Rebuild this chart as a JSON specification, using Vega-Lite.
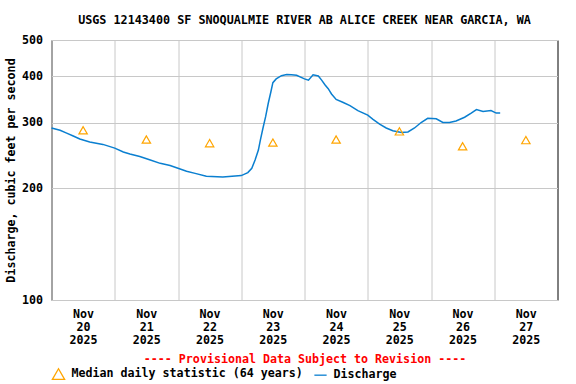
{
  "$schema": "https://vega.github.io/schema/vega-lite/v6.json",
  "width": 506,
  "height": 260,
  "autosize": {"type": "none"},
  "padding": {"left": 51.5, "top": 40, "right": 18.5, "bottom": 84},
  "background": "white",
  "config": {
    "font": "DejaVu Sans Mono",
    "view": {"stroke": "black", "strokeWidth": 1},
    "axis": {
      "labelFont": "DejaVu Sans Mono",
      "labelFontSize": 11.65,
      "labelFontWeight": "bold",
      "labelColor": "black",
      "titleFont": "DejaVu Sans Mono",
      "titleFontSize": 11.65,
      "titleFontWeight": "bold",
      "gridColor": "#c8c8c8",
      "gridWidth": 1,
      "gridOpacity": 1,
      "domain": false,
      "ticks": false
    },
    "legend": {
      "labelFont": "DejaVu Sans Mono",
      "labelFontSize": 11.65,
      "labelFontWeight": "bold",
      "labelColor": "black",
      "labelLimit": 0
    }
  },
  "title": {
    "text": "USGS 12143400 SF SNOQUALMIE RIVER AB ALICE CREEK NEAR GARCIA, WA",
    "frame": "group",
    "anchor": "middle",
    "font": "DejaVu Sans Mono",
    "fontSize": 11.75,
    "fontWeight": "bold",
    "color": "black",
    "offset": 7.5
  },
  "datasets": {
    "discharge": [
      {"t": "2025-11-20T00:00", "q": 290},
      {"t": "2025-11-20T03:15", "q": 286},
      {"t": "2025-11-20T05:45", "q": 281},
      {"t": "2025-11-20T08:15", "q": 276},
      {"t": "2025-11-20T10:45", "q": 271},
      {"t": "2025-11-20T14:30", "q": 266},
      {"t": "2025-11-20T19:30", "q": 262},
      {"t": "2025-11-21T00:00", "q": 256},
      {"t": "2025-11-21T03:15", "q": 250},
      {"t": "2025-11-21T05:45", "q": 247},
      {"t": "2025-11-21T09:30", "q": 243},
      {"t": "2025-11-21T13:30", "q": 238},
      {"t": "2025-11-21T17:15", "q": 233},
      {"t": "2025-11-21T21:00", "q": 230},
      {"t": "2025-11-22T00:00", "q": 226},
      {"t": "2025-11-22T03:15", "q": 222},
      {"t": "2025-11-22T06:30", "q": 219},
      {"t": "2025-11-22T10:45", "q": 215},
      {"t": "2025-11-22T17:00", "q": 214},
      {"t": "2025-11-23T00:00", "q": 216},
      {"t": "2025-11-23T02:30", "q": 220},
      {"t": "2025-11-23T04:00", "q": 226},
      {"t": "2025-11-23T05:15", "q": 238},
      {"t": "2025-11-23T06:30", "q": 253},
      {"t": "2025-11-23T07:15", "q": 269},
      {"t": "2025-11-23T08:15", "q": 290},
      {"t": "2025-11-23T09:15", "q": 311},
      {"t": "2025-11-23T10:15", "q": 338},
      {"t": "2025-11-23T11:15", "q": 363},
      {"t": "2025-11-23T12:00", "q": 384},
      {"t": "2025-11-23T13:15", "q": 393},
      {"t": "2025-11-23T15:15", "q": 401},
      {"t": "2025-11-23T17:15", "q": 404},
      {"t": "2025-11-23T19:00", "q": 403},
      {"t": "2025-11-23T21:00", "q": 402},
      {"t": "2025-11-24T00:00", "q": 393},
      {"t": "2025-11-24T01:30", "q": 390},
      {"t": "2025-11-24T03:15", "q": 403},
      {"t": "2025-11-24T05:15", "q": 400},
      {"t": "2025-11-24T06:30", "q": 390},
      {"t": "2025-11-24T07:45", "q": 379},
      {"t": "2025-11-24T09:00", "q": 370},
      {"t": "2025-11-24T10:15", "q": 358},
      {"t": "2025-11-24T12:00", "q": 346},
      {"t": "2025-11-24T14:30", "q": 340},
      {"t": "2025-11-24T17:15", "q": 333},
      {"t": "2025-11-24T20:15", "q": 323},
      {"t": "2025-11-25T00:00", "q": 314},
      {"t": "2025-11-25T02:00", "q": 306},
      {"t": "2025-11-25T04:30", "q": 297},
      {"t": "2025-11-25T07:00", "q": 290},
      {"t": "2025-11-25T09:30", "q": 285},
      {"t": "2025-11-25T12:45", "q": 282},
      {"t": "2025-11-25T15:15", "q": 283},
      {"t": "2025-11-25T17:45", "q": 290},
      {"t": "2025-11-25T20:15", "q": 300},
      {"t": "2025-11-25T22:45", "q": 308},
      {"t": "2025-11-26T02:00", "q": 307},
      {"t": "2025-11-26T04:30", "q": 300},
      {"t": "2025-11-26T07:00", "q": 300},
      {"t": "2025-11-26T09:30", "q": 303},
      {"t": "2025-11-26T12:45", "q": 310},
      {"t": "2025-11-26T15:15", "q": 318},
      {"t": "2025-11-26T17:15", "q": 325},
      {"t": "2025-11-26T19:45", "q": 321},
      {"t": "2025-11-26T22:45", "q": 323},
      {"t": "2025-11-27T00:45", "q": 318},
      {"t": "2025-11-27T02:15", "q": 318}
    ],
    "median": [
      {"t": "2025-11-20T12:00", "q": 286},
      {"t": "2025-11-21T12:00", "q": 270},
      {"t": "2025-11-22T12:00", "q": 264},
      {"t": "2025-11-23T12:00", "q": 265},
      {"t": "2025-11-24T12:00", "q": 270},
      {"t": "2025-11-25T12:00", "q": 284},
      {"t": "2025-11-26T12:00", "q": 259},
      {"t": "2025-11-27T12:00", "q": 269}
    ]
  },
  "encoding": {
    "x": {
      "field": "t",
      "type": "temporal",
      "scale": {"domain": [{"year": 2025, "month": "nov", "date": 20}, {"year": 2025, "month": "nov", "date": 28}]},
      "axis": {
        "values": [
          {"year": 2025, "month": "nov", "date": 20},
          {"year": 2025, "month": "nov", "date": 21},
          {"year": 2025, "month": "nov", "date": 22},
          {"year": 2025, "month": "nov", "date": 23},
          {"year": 2025, "month": "nov", "date": 24},
          {"year": 2025, "month": "nov", "date": 25},
          {"year": 2025, "month": "nov", "date": 26},
          {"year": 2025, "month": "nov", "date": 27}
        ],
        "labelExpr": "[timeFormat(datum.value, '%b'), timeFormat(datum.value, '%d'), timeFormat(datum.value, '%Y')]",
        "labelOffset": 31.6,
        "labelFlush": false,
        "labelOverlap": false,
        "labelBound": false,
        "labelLineHeight": 13,
        "labelPadding": 8,
        "grid": true,
        "title": "---- Provisional Data Subject to Revision ----",
        "titleColor": "#ff0000",
        "titlePadding": 8
      }
    },
    "y": {
      "field": "q",
      "type": "quantitative",
      "scale": {"type": "log", "domain": [100, 500]},
      "axis": {
        "values": [100, 200, 300, 400, 500],
        "format": "d",
        "grid": true,
        "labelPadding": 9,
        "title": "Discharge, cubic feet per second",
        "titleColor": "black",
        "titlePadding": 5
      }
    }
  },
  "layer": [
    {
      "data": {"name": "discharge"},
      "mark": {"type": "line", "strokeWidth": 1.5},
      "encoding": {
        "color": {
          "datum": "Discharge",
          "scale": {"domain": ["Median daily statistic (64 years)", "Discharge"], "range": ["#ffa500", "#0a7fd0"]},
          "legend": {
            "title": null,
            "orient": "bottom",
            "direction": "horizontal",
            "symbolSize": 150,
            "symbolStrokeWidth": 1.3,
            "columnPadding": 8,
            "labelOffset": 6,
            "labelLimit": 0,
            "offset": 1,
            "padding": 0
          }
        }
      }
    },
    {
      "data": {"name": "median"},
      "mark": {"type": "point", "filled": false, "size": 70, "strokeWidth": 1.2, "opacity": 1},
      "encoding": {
        "color": {"datum": "Median daily statistic (64 years)"},
        "shape": {
          "datum": "Median daily statistic (64 years)",
          "scale": {"domain": ["Median daily statistic (64 years)", "Discharge"], "range": ["triangle-up", "stroke"]},
          "legend": {"title": null, "labelLimit": 0}
        }
      }
    }
  ]
}
